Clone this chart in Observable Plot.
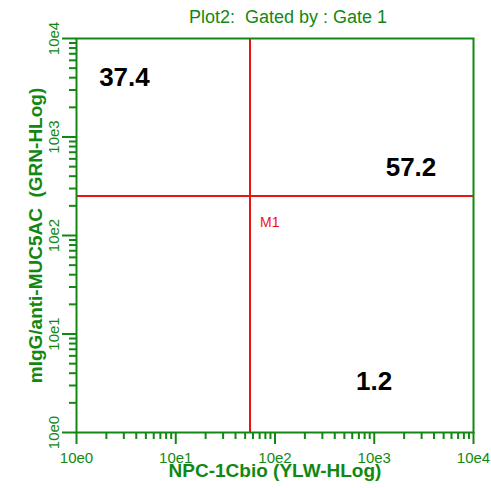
<!DOCTYPE html>
<html>
<head>
<meta charset="utf-8">
<script src="https://cdn.jsdelivr.net/npm/d3@7"></script>
<script src="https://cdn.jsdelivr.net/npm/@observablehq/plot@0.6"></script>
<style>
  html, body { margin: 0; padding: 0; background: #fff; }
  svg text { white-space: pre; }
</style>
</head>
<body>
<div id="chart"></div>
<script>
// Plot title and axis titles
const title = "Plot2:  Gated by : Gate 1";
const xTitle = "NPC-1Cbio (YLW-HLog)";
const yTitle = "mIgG/anti-MUC5AC  (GRN-HLog)";

// Log decades and their labels (both axes share them)
const majorTicks = [1, 10, 100, 1000, 10000];
const tickLabels = ["10e0", "10e1", "10e2", "10e3", "10e4"];
const minorSteps = [2, 3, 4, 5, 6, 7, 8, 9];

// Quadrant marker M1 (gate thresholds on each channel)
const gateName = "M1";
const gateX = 56;
const gateY = 252;

// Quadrant percentages and where each one is written (data units)
const quadValues = [37.4, 57.2, 1.2];
const quadX = [3.04, 2345, 995];
const quadY = [3260, 406, 2.67];

const green = "#128812";
const red = "#ee1111";

const minorTicks = majorTicks.slice(0, -1).flatMap(d => minorSteps.map(m => m * d));
const labelOf = new Map(majorTicks.map((d, i) => [d, tickLabels[i]]));
const quads = quadValues.map((v, i) => ({value: v, x: quadX[i], y: quadY[i]}));
const font = "'Liberation Sans', Arial, sans-serif";

const chart = Plot.plot({
  width: 491,
  height: 488,
  marginTop: 38,
  marginRight: 18,
  marginBottom: 56,
  marginLeft: 76,
  style: {color: green, background: "#fff", fontFamily: font},
  x: {type: "log", domain: [1, 10000]},
  y: {type: "log", domain: [1, 10000]},
  marks: [
    // gate crosshair
    Plot.ruleX([gateX], {stroke: red, strokeWidth: 2}),
    Plot.ruleY([gateY], {stroke: red, strokeWidth: 2}),
    Plot.text([gateName], {x: gateX, y: gateY, text: d => d, dx: 10, dy: 31,
      textAnchor: "start", lineAnchor: "bottom", fill: red, fontSize: 14}),

    // tick marks: long at decades, short in between
    Plot.axisX(majorTicks, {tickSize: 12, strokeWidth: 2, tickFormat: () => "", label: null}),
    Plot.axisX(minorTicks, {tickSize: 7, strokeWidth: 2, tickFormat: () => "", label: null}),
    Plot.axisY(majorTicks, {tickSize: 14, strokeWidth: 2, tickFormat: () => "", label: null}),
    Plot.axisY(minorTicks, {tickSize: 7, strokeWidth: 2, tickFormat: () => "", label: null}),

    // decade labels
    Plot.text(majorTicks, {x: d => d, frameAnchor: "bottom", text: d => labelOf.get(d),
      dy: 30, textAnchor: "middle", lineAnchor: "bottom", fontSize: 15, fill: green}),
    Plot.text(majorTicks, {y: d => d, frameAnchor: "left", text: d => labelOf.get(d),
      rotate: -90, dx: -18, textAnchor: "middle", lineAnchor: "bottom", fontSize: 15, fill: green}),

    Plot.frame({stroke: green, strokeWidth: 2}),

    // quadrant percentages
    Plot.text(quads, {x: "x", y: "y", text: d => d.value.toFixed(1), fill: "#000",
      fontSize: 26, fontWeight: "bold", textAnchor: "middle", lineAnchor: "bottom"}),

    // titles
    Plot.text([title], {frameAnchor: "top", text: d => d, dx: 13, dy: -16,
      textAnchor: "middle", lineAnchor: "bottom", fontSize: 18, fill: green}),
    Plot.text([xTitle], {frameAnchor: "bottom", text: d => d, dy: 44,
      textAnchor: "middle", lineAnchor: "bottom", fontSize: 19, fontWeight: "bold", fill: green}),
    Plot.text([yTitle], {frameAnchor: "left", text: d => d, dx: -35, rotate: -90,
      textAnchor: "middle", lineAnchor: "bottom", fontSize: 19, fontWeight: "bold", fill: green})
  ]
});

document.getElementById("chart").appendChild(chart);
</script>
</body>
</html>
